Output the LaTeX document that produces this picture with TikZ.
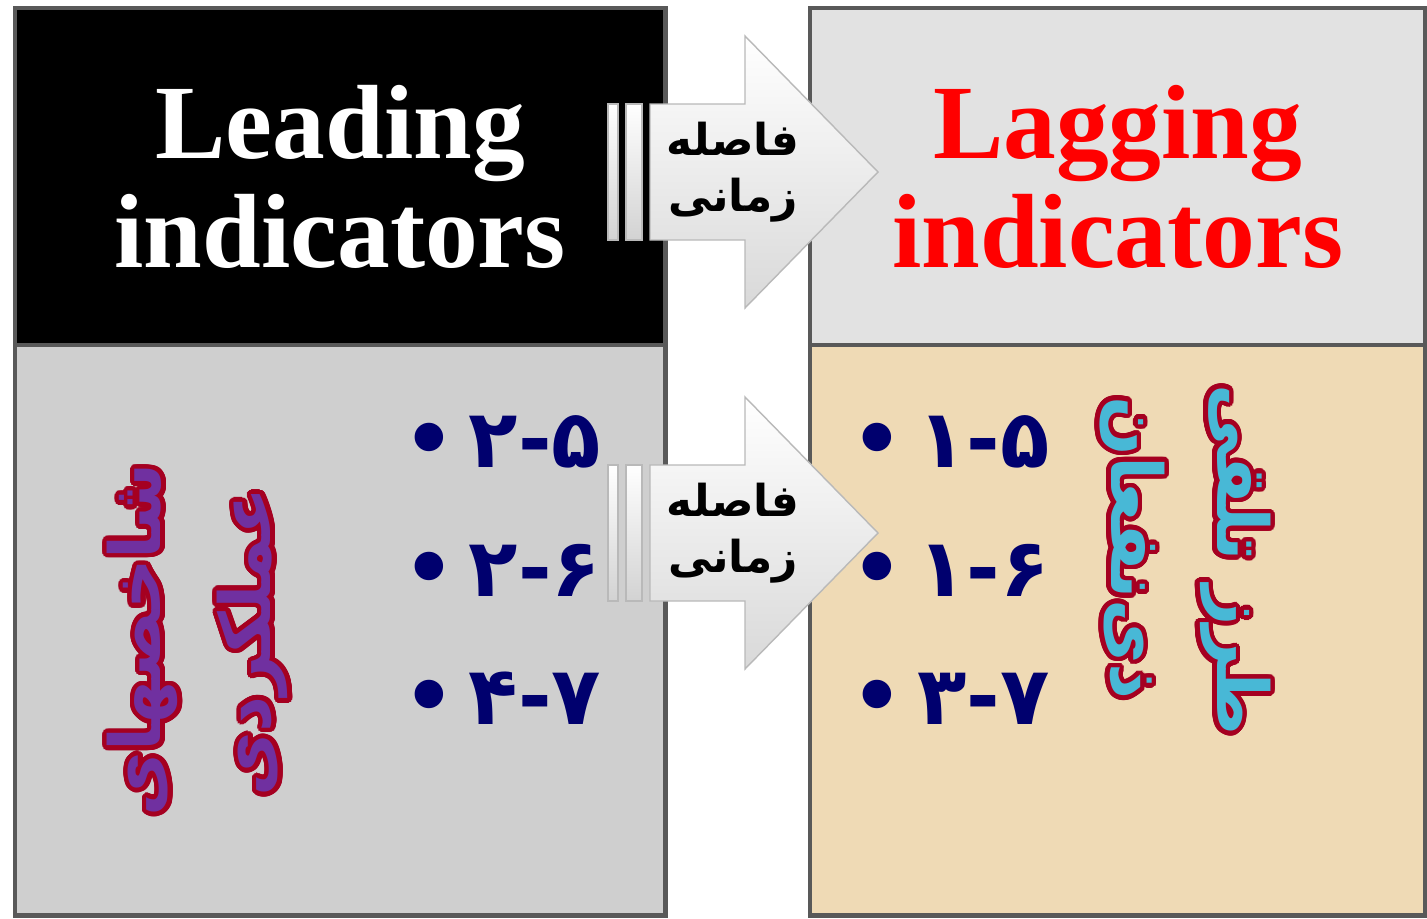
\documentclass[tikz,border=0pt]{standalone}
\usepackage{fontspec}
\setmainfont{Liberation Serif}
\newfontfamily\arabicfont[Script=Arabic]{DejaVu Sans}
\TeXXeTstate=1
\usepackage{contour}
\contournumber{32}
\contourlength{1.3pt}
\usetikzlibrary{positioning}

\definecolor{leadgray}{RGB}{207,207,207}
\definecolor{laggray}{RGB}{226,226,226}
\definecolor{lagtan}{RGB}{239,218,181}
\definecolor{itemnavy}{RGB}{0,0,110}
\definecolor{perfpurple}{RGB}{112,48,160}
\definecolor{stakecyan}{RGB}{72,184,214}
\definecolor{outlinered}{RGB}{165,0,33}

\begin{document}
\begin{tikzpicture}[x=0.01cm, y=-0.01cm,
  panel/.style={draw=black!65, line width=1.4pt, inner sep=0pt, outer sep=0pt, anchor=north west},
  heading/.style={font=\bfseries\fontsize{30}{31}\selectfont, align=center},
  gaplabel/.style={font=\arabicfont\bfseries\fontsize{12.5}{16}\selectfont, align=center, text=black},
  item/.style={font=\arabicfont\bfseries\fontsize{23}{25}\selectfont, text=itemnavy, inner sep=0pt, anchor=base west},
  perf/.style={font=\arabicfont\bfseries\fontsize{20}{24}\selectfont, text=perfpurple, inner sep=0pt, rotate=90},
  stake/.style={font=\arabicfont\bfseries\fontsize{20}{24}\selectfont, text=stakecyan, inner sep=0pt, rotate=-90}]
\useasboundingbox[fill=white] (0,0) rectangle (1427,918);

% four panels
\node[panel, fill=black, minimum width=6.5cm, minimum height=3.37cm] (leadTop) at (15,8) {};
\node[panel, fill=leadgray, minimum width=6.5cm, minimum height=5.7cm] (leadBot) at (15,345) {};
\node[panel, fill=laggray, minimum width=6.15cm, minimum height=3.37cm] (lagTop) at (810,8) {};
\node[panel, fill=lagtan, minimum width=6.15cm, minimum height=5.7cm] (lagBot) at (810,345) {};

\node[heading, text=white] (leadHead) at (leadTop.center) {Leading\\indicators};
\node[heading, text=red] (lagHead) at (lagTop.center) {Lagging\\indicators};

% time-gap arrows
\foreach \ay/\nm in {172/gapTop, 533/gapBot} {
  \shade[top color=white, bottom color=gray!35, draw=gray!55] (608,\ay-68) rectangle (618,\ay+68);
  \shade[top color=white, bottom color=gray!35, draw=gray!55] (626,\ay-68) rectangle (642,\ay+68);
  \shade[top color=white, bottom color=gray!30, draw=gray!55]
    (650,\ay-68) -- (745,\ay-68) -- (745,\ay-136) -- (878,\ay) -- (745,\ay+136) -- (745,\ay+68) -- (650,\ay+68) -- cycle;
  \node[gaplabel] (\nm) at (733,\ay) {\beginR فاصله\endR\\\beginR زمانی\endR};
}

% item lists
\foreach \row/\txt [count=\i] in {467/۲-۵, 596/۲-۶, 724/۴-۷}
  \node[item] (leadItem\i) at (403,\row) {•\,\txt};
\foreach \row/\txt [count=\i] in {467/۱-۵, 596/۱-۶, 724/۳-۷}
  \node[item] (lagItem\i) at (851,\row) {•\hspace{4pt}\txt};

% rotated titles
\node[perf] (perfA) at (145,640) {\contour{outlinered}{\beginR شاخصهای\endR}};
\node[perf] (perfB) at (255,642) {\contour{outlinered}{\beginR عملکردی\endR}};
\node[stake] (stakeA) at (1233,560) {\contour{outlinered}{\beginR طرز تلقی\endR}};
\node[stake] (stakeB) at (1130,548) {\contour{outlinered}{\beginR ذی‌نفعان\endR}};
\end{tikzpicture}
\end{document}
